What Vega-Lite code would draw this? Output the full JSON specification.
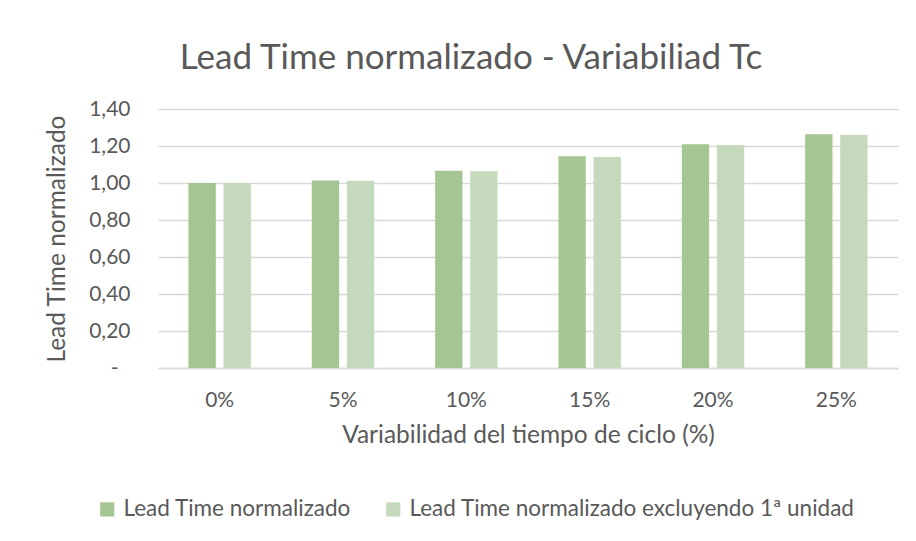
{
  "$schema": "https://vega.github.io/schema/vega-lite/v6.json",
  "width": 740,
  "height": 259,
  "autosize": {"type": "none"},
  "padding": {"left": 158, "top": 109, "right": 18, "bottom": 173},
  "background": "white",
  "title": {
    "text": "Lead Time normalizado - Variabiliad Tc",
    "anchor": "middle",
    "dx": -57,
    "offset": 22,
    "font": "Lato",
    "fontSize": 35,
    "fontWeight": "normal",
    "color": "#595959"
  },
  "data": {
    "values": [
      {"variabilidad": "0%", "serie": "Lead Time normalizado", "valor": 1.0},
      {"variabilidad": "0%", "serie": "Lead Time normalizado excluyendo 1ª unidad", "valor": 1.0},
      {"variabilidad": "5%", "serie": "Lead Time normalizado", "valor": 1.014},
      {"variabilidad": "5%", "serie": "Lead Time normalizado excluyendo 1ª unidad", "valor": 1.012},
      {"variabilidad": "10%", "serie": "Lead Time normalizado", "valor": 1.066},
      {"variabilidad": "10%", "serie": "Lead Time normalizado excluyendo 1ª unidad", "valor": 1.064},
      {"variabilidad": "15%", "serie": "Lead Time normalizado", "valor": 1.144},
      {"variabilidad": "15%", "serie": "Lead Time normalizado excluyendo 1ª unidad", "valor": 1.141},
      {"variabilidad": "20%", "serie": "Lead Time normalizado", "valor": 1.209},
      {"variabilidad": "20%", "serie": "Lead Time normalizado excluyendo 1ª unidad", "valor": 1.205},
      {"variabilidad": "25%", "serie": "Lead Time normalizado", "valor": 1.263},
      {"variabilidad": "25%", "serie": "Lead Time normalizado excluyendo 1ª unidad", "valor": 1.259}
    ]
  },
  "mark": {"type": "bar"},
  "encoding": {
    "x": {
      "field": "variabilidad",
      "type": "nominal",
      "sort": ["0%", "5%", "10%", "15%", "20%", "25%"],
      "scale": {"paddingInner": 0.494, "paddingOuter": 0.247},
      "axis": {
        "title": "Variabilidad del tiempo de ciclo (%)",
        "labelAngle": 0,
        "domain": true,
        "domainColor": "#D9D9D9",
        "domainWidth": 1.5,
        "ticks": false,
        "labelPadding": 21,
        "titlePadding": 13
      }
    },
    "xOffset": {
      "field": "serie",
      "type": "nominal",
      "scale": {"paddingInner": 0.22, "paddingOuter": 0}
    },
    "y": {
      "field": "valor",
      "type": "quantitative",
      "scale": {"domain": [0, 1.4], "nice": false},
      "axis": {
        "title": "Lead Time normalizado",
        "values": [0, 0.2, 0.4, 0.6, 0.8, 1.0, 1.2, 1.4],
        "labelExpr": "datum.value == 0 ? '-' : replace(format(datum.value, '.2f'), '.', ',')",
        "domain": false,
        "ticks": false,
        "grid": true,
        "gridColor": "#D9D9D9",
        "gridWidth": 1.5,
        "labelPadding": {"condition": {"test": "datum.value == 0", "value": 40}, "value": 28},
        "titlePadding": 19
      }
    },
    "color": {
      "field": "serie",
      "type": "nominal",
      "scale": {
        "domain": ["Lead Time normalizado", "Lead Time normalizado excluyendo 1ª unidad"],
        "range": ["#A5C592", "#C5D9BD"]
      },
      "legend": {
        "title": null,
        "orient": "none",
        "direction": "horizontal",
        "legendX": -62,
        "legendY": 389,
        "symbolType": "square",
        "symbolSize": 200,
        "symbolStrokeWidth": 0,
        "labelOffset": 5,
        "columnPadding": 30,
        "labelFont": "Lato",
        "labelFontSize": 22.5,
        "labelColor": "#595959",
        "labelLimit": 0
      }
    }
  },
  "config": {
    "view": {"stroke": null},
    "axis": {
      "labelFont": "Lato",
      "labelFontSize": 21,
      "labelColor": "#595959",
      "titleFont": "Lato",
      "titleFontSize": 24.5,
      "titleFontWeight": "normal",
      "titleColor": "#595959"
    }
  }
}
